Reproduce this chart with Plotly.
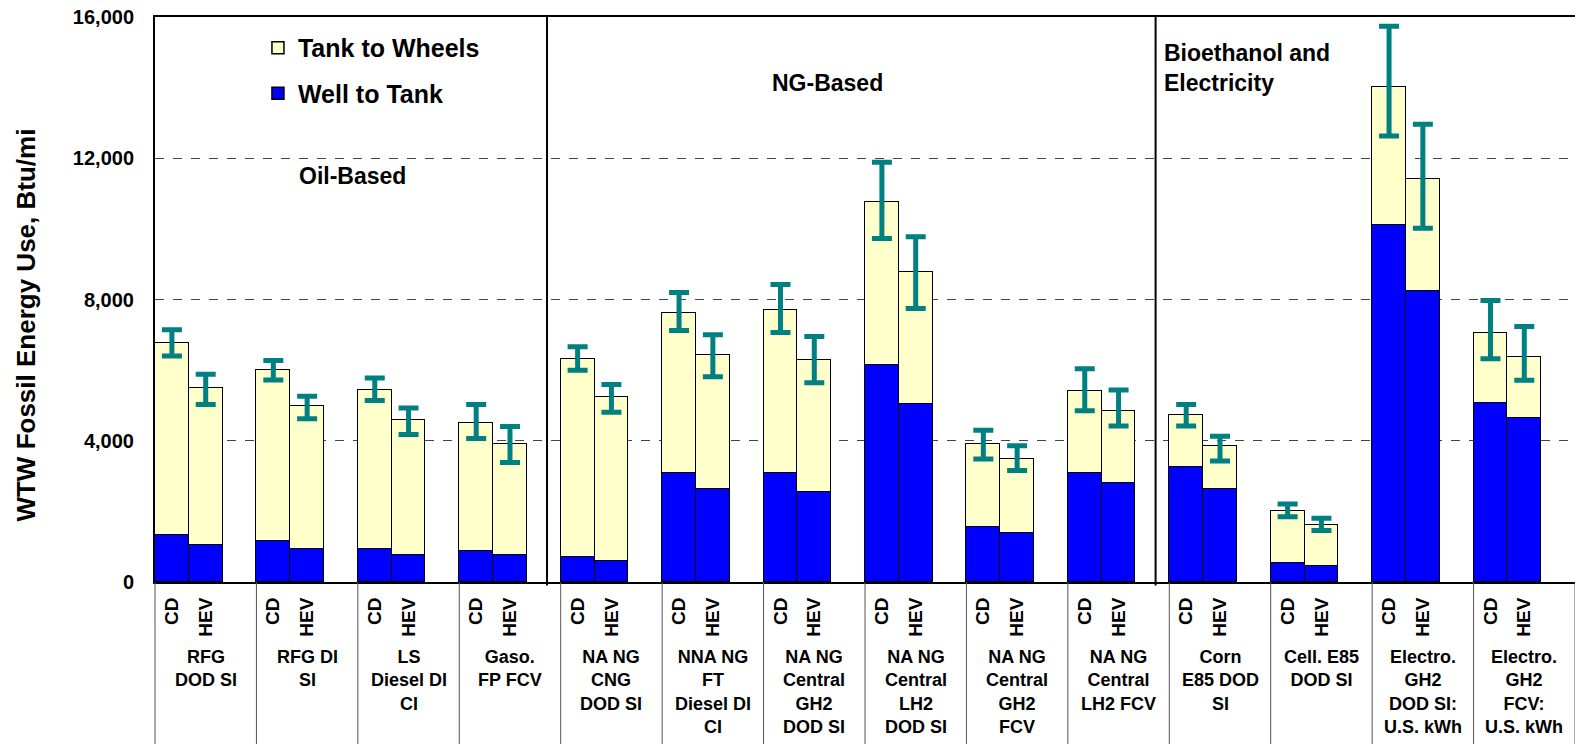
import plotly.graph_objects as go

# ---------------- data ----------------
groups = [
    "RFG<br>DOD SI", "RFG DI<br>SI", "LS<br>Diesel DI<br>CI", "Gaso.<br>FP FCV",
    "NA NG<br>CNG<br>DOD SI", "NNA NG<br>FT<br>Diesel DI<br>CI",
    "NA NG<br>Central<br>GH2<br>DOD SI", "NA NG<br>Central<br>LH2<br>DOD SI",
    "NA NG<br>Central<br>GH2<br>FCV", "NA NG<br>Central<br>LH2 FCV",
    "Corn<br>E85 DOD<br>SI", "Cell. E85<br>DOD SI",
    "Electro.<br>GH2<br>DOD SI:<br>U.S. kWh", "Electro.<br>GH2<br>FCV:<br>U.S. kWh",
]
vehicles = ["CD", "HEV"]

wtt_cd = [1340, 1170, 940, 885, 715, 3100, 3100, 6155, 1565, 3100, 3260, 535, 10120, 5075]
ttw_cd = [5440, 4830, 4490, 3625, 5610, 4530, 4590, 4610, 2330, 2315, 1475, 1485, 3910, 1990]
err_plus_cd = [360, 270, 350, 520, 340, 570, 735, 1125, 400, 625, 295, 190, 1705, 905]
err_minus_cd = [380, 280, 290, 445, 325, 510, 625, 1035, 410, 565, 320, 170, 1400, 740]

wtt_hev = [1055, 940, 770, 770, 600, 2645, 2540, 5030, 1395, 2815, 2645, 440, 8255, 4635]
ttw_hev = [4430, 4035, 3805, 3125, 4645, 3795, 3740, 3735, 2090, 2035, 1195, 1185, 3165, 1740]
err_plus_hev = [395, 285, 350, 510, 345, 565, 670, 1015, 370, 585, 290, 180, 1540, 860]
err_minus_hev = [455, 355, 395, 510, 440, 625, 635, 1020, 330, 435, 410, 165, 1405, 665]

section_labels = ["Oil-Based", "NG-Based", "Bioethanol and<br>Electricity"]
y_ticks = [0, 4000, 8000, 12000, 16000]
y_title = "WTW Fossil Energy Use, Btu/mi"

# ---------------- layout helpers ----------------
n = len(groups)
bw = 1 / 3
x_cd = [i + bw / 2 for i in range(n)]
x_hev = [i + 1.5 * bw for i in range(n)]

xs, wtt, ttw, ep, em = [], [], [], [], []
for i in range(n):
    xs += [x_cd[i], x_hev[i]]
    wtt += [wtt_cd[i], wtt_hev[i]]
    ttw += [ttw_cd[i], ttw_hev[i]]
    ep += [err_plus_cd[i], err_plus_hev[i]]
    em += [err_minus_cd[i], err_minus_hev[i]]
totals = [a + b for a, b in zip(wtt, ttw)]

FONT = "Liberation Sans, Arial, sans-serif"
BLUE = "#0000FF"
YELLOW = "#FFFFCC"
TEAL = "#008080"

fig = go.Figure()
fig.add_trace(go.Bar(
    x=xs, y=wtt, width=bw, name="Well to Tank",
    marker=dict(color=BLUE, line=dict(color="black", width=1.5)),
    legendgroup="wtt", legendrank=2,
))
fig.add_trace(go.Bar(
    x=xs, y=ttw, width=bw, name="Tank to Wheels",
    marker=dict(color=YELLOW, line=dict(color="black", width=1.5)),
    legendgroup="ttw", legendrank=1,
))
fig.add_trace(go.Scatter(
    x=xs, y=totals, mode="markers", marker=dict(size=1, opacity=0),
    error_y=dict(type="data", array=ep, arrayminus=em, color=TEAL,
                 thickness=5, width=10, visible=True),
    showlegend=False, hoverinfo="skip",
))

tickvals = []
ticktext = []
for i in range(n):
    tickvals += [x_cd[i], x_hev[i]]
    ticktext += vehicles

shapes = []
# category separators below the axis
for i in range(n + 1):
    shapes.append(dict(type="line", xref="paper", yref="paper",
                       x0=i / n, x1=i / n, y0=0, y1=-0.32,
                       line=dict(color="#555555", width=1)))
# section separators
for xv in [3.865, 9.865]:
    shapes.append(dict(type="line", xref="paper", yref="paper",
                       x0=xv / n, x1=xv / n, y0=-0.006, y1=1,
                       line=dict(color="black", width=2)))

annotations = []
for i, g in enumerate(groups):
    annotations.append(dict(
        x=i + 0.5, xref="x", y=-0.112, yref="paper", text=g, showarrow=False,
        xanchor="center", yanchor="top", align="center",
        font=dict(family=FONT, size=18, color="black", weight="bold")))

sec_pos = [(1.945, 0.718, "center", "left"), (6.63, 0.883, "center", "left"), (9.93, 0.9106, "left", "left")]
for lab, (xv, yv, xa, al) in zip(section_labels, sec_pos):
    annotations.append(dict(
        x=xv, xref="x", y=yv, yref="paper", text=lab, showarrow=False,
        xanchor=xa, yanchor="middle", align=al,
        font=dict(family=FONT, size=23, color="black", weight="bold")))

annotations.append(dict(
    x=-0.0908, xref="paper", y=0.454, yref="paper", text=y_title, showarrow=False,
    textangle=-90, xanchor="center", yanchor="middle",
    font=dict(family=FONT, size=26, color="black", weight="bold")))

fig.update_layout(
    width=1575, height=744,
    margin=dict(l=155, r=0, t=17, b=162),
    plot_bgcolor="white", paper_bgcolor="white",
    barmode="stack", bargap=0,
    font=dict(family=FONT, color="black"),
    showlegend=True,
    legend=dict(x=0.0725, y=0.986, xanchor="left", yanchor="top",
                traceorder="grouped", tracegroupgap=10,
                font=dict(family=FONT, size=25, color="black", weight="bold"),
                bgcolor="rgba(0,0,0,0)"),
    shapes=shapes, annotations=annotations,
)
fig.update_xaxes(range=[0, n], showline=True, linecolor="black", linewidth=2,
                 mirror=True, showgrid=False, zeroline=False, ticks="",
                 tickvals=tickvals, ticktext=ticktext, tickangle=-90,
                 ticklabelstandoff=6,
                 tickfont=dict(family=FONT, size=19, color="black", weight="bold"))
fig.update_yaxes(range=[0, 16000], showline=True, linecolor="black", linewidth=2,
                 showgrid=True, gridcolor="#444444", griddash="dash", gridwidth=1,
                 zeroline=False, ticks="", tickvals=y_ticks, tickformat=",d",
                 ticklabelstandoff=15,
                 tickfont=dict(family=FONT, size=20, color="black", weight="bold"))

fig.write_html("out.html", config={"displayModeBar": False},
               post_script="document.body.style.margin='0';document.body.style.overflow='hidden';")
